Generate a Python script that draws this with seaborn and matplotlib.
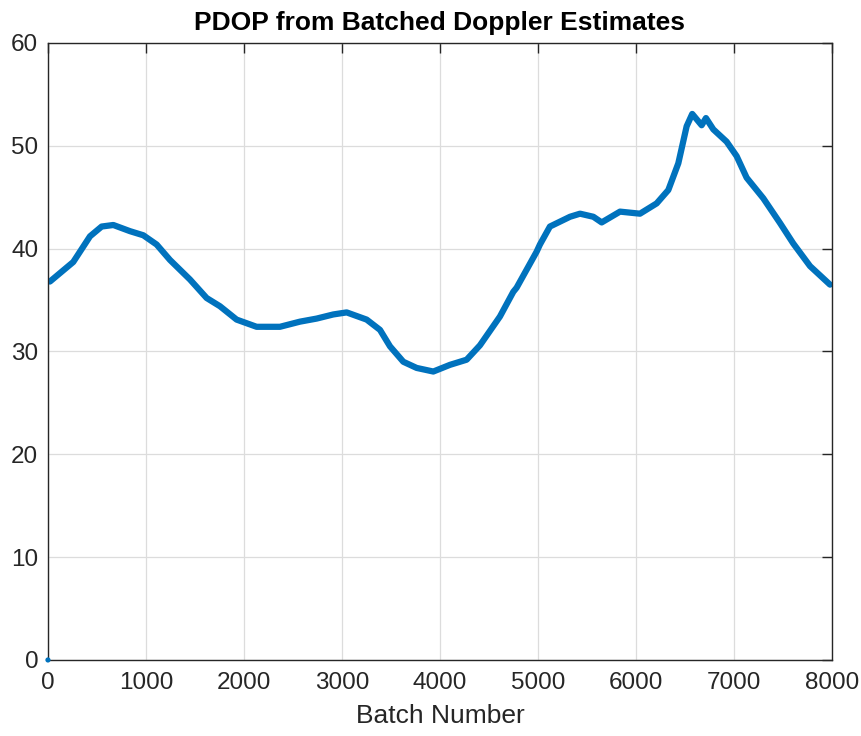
import matplotlib
matplotlib.use("Agg")
import matplotlib.pyplot as plt
import seaborn as sns
import pandas as pd

batch = [20, 258, 429, 548, 667, 837, 973, 1109, 1245, 1449, 1619, 1755, 1925, 2129,
         2367, 2571, 2742, 2911, 3048, 3252, 3388, 3490, 3626, 3762, 3932, 4102, 4272,
         4408, 4612, 4748, 4782, 4986, 5020, 5122, 5327, 5429, 5565, 5650, 5837, 6041,
         6211, 6330, 6432, 6517, 6574, 6670, 6714, 6789, 6925, 7027, 7129, 7299, 7469,
         7605, 7776, 7980]
pdop = [36.8, 38.7, 41.2, 42.15, 42.3, 41.7, 41.3, 40.4, 38.9, 37.0, 35.2, 34.4, 33.1, 32.4,
        32.4, 32.9, 33.2, 33.6, 33.8, 33.1, 32.1, 30.5, 29.0, 28.4, 28.05, 28.7, 29.2,
        30.6, 33.4, 35.8, 36.2, 39.7, 40.4, 42.15, 43.1, 43.4, 43.1, 42.55, 43.6, 43.4,
        44.4, 45.7, 48.3, 51.9, 53.1, 52.0, 52.7, 51.6, 50.4, 49.0, 46.9, 44.9, 42.5,
        40.5, 38.3, 36.5]
first_batch = [0]
first_pdop = [0]

xticks = [0, 1000, 2000, 3000, 4000, 5000, 6000, 7000, 8000]
yticks = [0, 10, 20, 30, 40, 50, 60]

sns.set_style("white")
plt.rcParams['font.family'] = ['Liberation Sans', 'DejaVu Sans']

fig = plt.figure(figsize=(8.61, 7.36), dpi=100)
ax = fig.add_axes([0.0557, 0.1033, 0.9106, 0.8383])

df = pd.DataFrame({"Batch Number": batch, "PDOP": pdop})
blue = "#0072BD"
sns.lineplot(data=df, x="Batch Number", y="PDOP", ax=ax, color=blue, linewidth=4.5,
             solid_capstyle="round", solid_joinstyle="round")
sns.scatterplot(x=first_batch, y=first_pdop, ax=ax, color=blue, s=14, edgecolor="none",
                clip_on=False, zorder=5)

ax.set_xlim(0, 8000)
ax.set_ylim(0, 60)
ax.set_xticks(xticks)
ax.set_yticks(yticks)
ax.grid(True, color="#dcdcdc", linewidth=0.9)
ax.set_axisbelow(True)
for s in ax.spines.values():
    s.set_color("#262626")
    s.set_linewidth(1.0)
ax.tick_params(direction="in", length=7, width=1.0, color="#262626", labelsize=17.5,
               labelcolor="#262626", top=True, right=True)
ax.tick_params(axis="x", pad=9)
ax.tick_params(axis="y", pad=7)
ax.set_xlabel("Batch Number", fontsize=19, color="#262626", labelpad=7)
ax.set_ylabel("")
ax.set_title("PDOP from Batched Doppler Estimates", fontsize=19, fontweight="bold",
             pad=9, color="black")

fig.savefig("out.png", dpi=100)
